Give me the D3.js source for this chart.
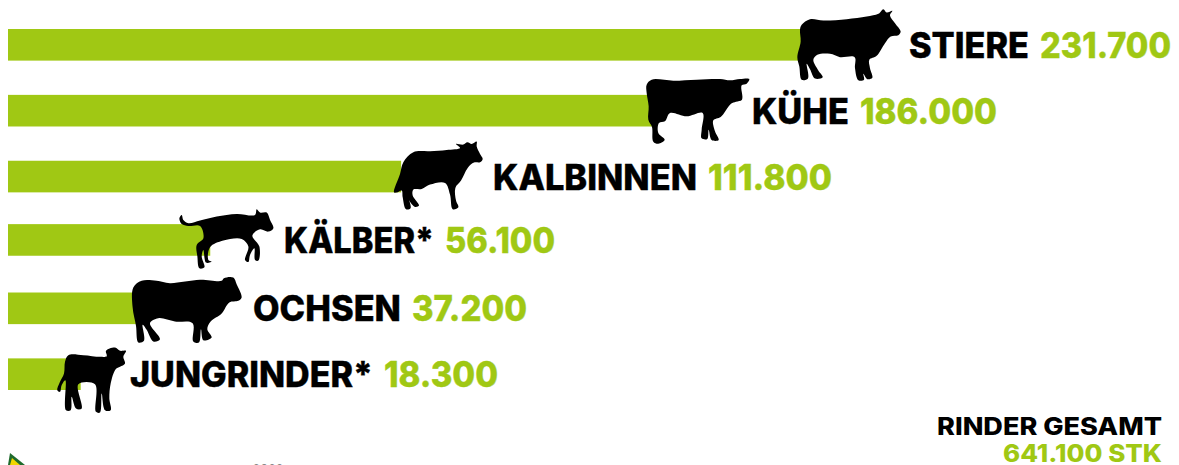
<!DOCTYPE html>
<html><head><meta charset="utf-8">
<script src="https://cdn.jsdelivr.net/npm/d3@7"></script>
<style>html,body{margin:0;padding:0;background:#fff;overflow:hidden}svg{display:block}</style>
</head><body><svg id="c" width="1179" height="465"></svg>
<script>
const categories = ["STIERE","KÜHE","KALBINNEN","KÄLBER*","OCHSEN","JUNGRINDER*"];
const values = [231700,186000,111800,56100,37200,18300];
const totalLabel = "RINDER GESAMT";
const totalValue = 641100;
const sourceYear = "2022";

const silhouettes = {
 "STIERE":[[65,75],[90,58],[130,62],[200,58],[260,50],[295,42],[310,28],[320,38],[337,33],[330,47],[345,70],[362,95],[355,106],[332,110],[315,130],[290,168],[268,180],[270,205],[277,234],[262,238],[250,222],[252,240],[235,241],[225,205],[224,172],[180,172],[150,162],[112,165],[100,180],[115,212],[128,232],[105,236],[90,208],[80,192],[84,236],[65,240],[58,200],[52,172],[62,125],[60,90]],
 "KÜHE":[[50,45],[65,30],[130,33],[200,30],[270,28],[300,32],[330,28],[358,28],[350,42],[335,47],[336,90],[318,96],[303,102],[272,142],[250,152],[255,185],[266,211],[245,211],[236,180],[232,208],[215,206],[215,180],[218,130],[170,140],[120,130],[105,155],[87,160],[85,190],[104,210],[85,222],[70,216],[66,172],[55,150],[56,110],[50,70]],
 "KALBINNEN":[[42,185],[60,130],[70,95],[100,65],[150,62],[200,58],[240,52],[228,40],[250,42],[262,35],[275,40],[290,33],[290,48],[300,70],[308,85],[300,95],[282,96],[263,112],[243,150],[226,172],[228,210],[235,230],[218,236],[210,192],[195,157],[150,162],[125,175],[100,177],[98,195],[117,225],[105,229],[85,205],[80,190],[92,232],[78,236],[68,200],[65,180],[50,186]],
 "KÄLBER*":[[178,55],[185,45],[190,60],[205,70],[240,62],[290,50],[350,42],[405,45],[410,28],[420,38],[440,38],[450,60],[460,85],[445,95],[420,88],[397,107],[418,140],[415,182],[405,180],[403,145],[390,165],[385,186],[375,180],[385,140],[365,117],[310,122],[270,142],[265,180],[275,185],[258,188],[250,150],[245,170],[253,202],[238,205],[232,170],[230,135],[250,115],[240,78],[205,78],[185,72]],
 "OCHSEN":[[40,260],[65,240],[110,240],[150,247],[240,237],[305,240],[312,232],[340,230],[350,250],[365,290],[355,300],[328,305],[305,338],[272,362],[262,385],[275,410],[250,418],[243,385],[237,425],[220,422],[218,367],[165,362],[115,352],[90,367],[120,415],[100,422],[80,387],[68,372],[72,420],[55,425],[48,375],[38,320]],
 "JUNGRINDER*":[[172,150],[180,125],[192,100],[195,65],[205,45],[250,45],[300,50],[320,48],[318,32],[345,22],[360,32],[378,32],[370,50],[375,70],[360,80],[347,87],[332,130],[328,175],[332,210],[315,210],[305,160],[300,217],[288,215],[285,132],[235,132],[245,205],[228,205],[215,170],[212,210],[198,210],[196,120],[185,135],[180,155]]
};
// placement tables, kept apart from the data
const shapeOffset = {"STIERE":[-32,-45],"KÜHE":[-25.4,-41],"KALBINNEN":[-21.1,-46],"KÄLBER*":[-90.2,-40],"OCHSEN":[-25.5,-107.5],"JUNGRINDER*":[-80.7,-34]};
const labelGap = {"STIERE":97,"KÜHE":96.6,"KALBINNEN":91.9,"KÄLBER*":73.8,"OCHSEN":107.5,"JUNGRINDER*":49.3};
const labelWidth = {"STIERE":120,"KÜHE":97,"KALBINNEN":204,"KÄLBER*":150,"OCHSEN":148,"JUNGRINDER*":243};
const valueWidth = {"STIERE":131,"KÜHE":137,"KALBINNEN":124,"KÄLBER*":110,"OCHSEN":115,"JUNGRINDER*":114};
const rowNudge = {"KÄLBER*":-2.5};

const GREEN="#a0c814", FONT="Inter, Montserrat, sans-serif";
const de = d3.formatLocale({decimal:",",thousands:".",grouping:[3],currency:["","€"]});
const fmt = de.format(",d");

const svg=d3.select("#c");
const x=d3.scaleLinear().domain([0,231700]).range([18,812]);
const y=d3.scaleBand().domain(categories).range([29,390]).paddingInner(0.52).paddingOuter(0);
const top_=c=>y(c)+(rowNudge[c]||0);
const line=d3.line().curve(d3.curveCatmullRomClosed.alpha(0.5));

const rows=svg.selectAll("g.row").data(categories.map((c,i)=>({c,v:values[i]}))).join("g").attr("class","row");
rows.append("rect").attr("x",8).attr("y",d=>top_(d.c)).attr("height",y.bandwidth())
  .attr("width",d=>x(d.v)-8).attr("fill",GREEN);
rows.append("path").attr("d",d=>line(silhouettes[d.c])).attr("fill","#000")
  .attr("transform",d=>`translate(${x(d.v)+shapeOffset[d.c][0]},${top_(d.c)+y.bandwidth()/2+shapeOffset[d.c][1]}) scale(${1/3})`);
const base=d=>top_(d.c)+y.bandwidth()/2+13;
const txt=sel=>sel.attr("font-family",FONT).attr("font-weight",800).attr("font-size",35).attr("lengthAdjust","spacingAndGlyphs").attr("stroke-width",0.4);
rows.append("text").call(txt).text(d=>d.c).attr("x",d=>x(d.v)+labelGap[d.c]).attr("y",base)
  .attr("textLength",d=>labelWidth[d.c]).attr("fill","#000").attr("stroke","#000");
rows.append("text").call(txt).text(d=>fmt(d.v)).attr("fill",GREEN).attr("stroke",GREEN).attr("y",base)
  .attr("x",d=>x(d.v)+labelGap[d.c]+labelWidth[d.c]+11).attr("textLength",d=>valueWidth[d.c]);

const foot=sel=>sel.attr("font-family",FONT).attr("font-weight",800).attr("font-size",24).attr("lengthAdjust","spacingAndGlyphs");
svg.append("text").call(foot).text(totalLabel).attr("x",937).attr("y",435).attr("textLength",225).attr("fill","#000");
svg.append("text").call(foot).text(fmt(totalValue)+" STK").attr("x",1003).attr("y",462).attr("textLength",159).attr("fill",GREEN);

// logo fragment and source line, both cut by the bottom edge as in the reference
svg.append("path").attr("d","M8,465 L10,453 L25,465 Z").attr("fill","#1f6b2c");
svg.append("path").attr("d","M10,465 L12,458 L20,465 Z").attr("fill","#f2d600");
svg.append("text").text(sourceYear).attr("x",253).attr("y",472).attr("font-family",FONT).attr("font-size",11).attr("letter-spacing",1).attr("fill","#8a8a8a");
</script></body></html>
